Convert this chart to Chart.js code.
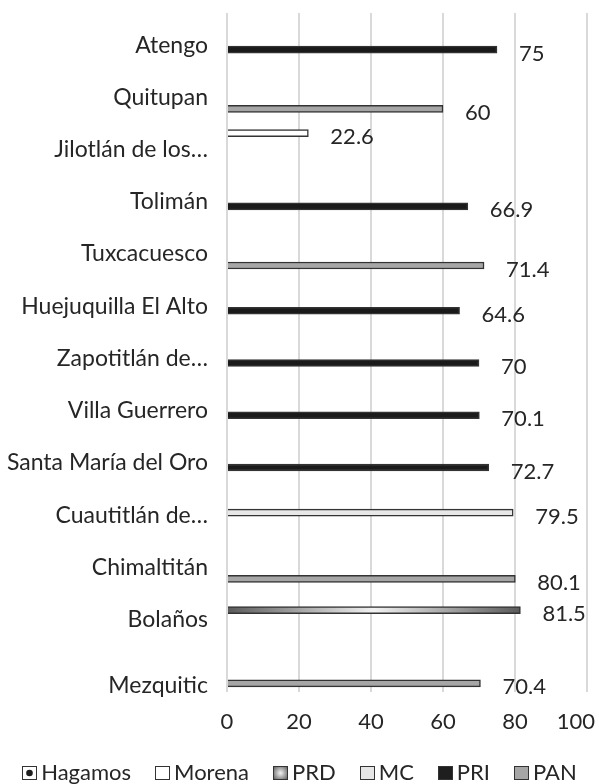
<!DOCTYPE html>
<html>
<head>
<meta charset="utf-8">
<script src="https://cdn.jsdelivr.net/npm/chart.js@4"></script>
<style>
  html, body { margin: 0; padding: 0; background: #fff; }
  #wrap { width: 599px; height: 784px; }
</style>
</head>
<body>
<div id="wrap"><canvas id="chart" width="599" height="784"></canvas></div>
<script>
// Categories (top to bottom) and one value series per party
const categories = ['Atengo', 'Quitupan', 'Jilotlán de los…', 'Tolimán', 'Tuxcacuesco', 'Huejuquilla El Alto',
    'Zapotitlán de…', 'Villa Guerrero', 'Santa María del Oro', 'Cuautitlán de…', 'Chimaltitán', 'Bolaños', 'Mezquitic'];
const hagamos = [null, null, null, null, null, null, null, null, null, null, null, null, null];
const morena  = [null, null, 22.6, null, null, null, null, null, null, null, null, null, null];
const prd     = [null, null, null, null, null, null, null, null, null, null, null, 81.5, null];
const mc      = [null, null, null, null, null, null, null, null, null, 79.5, null, null, null];
const pri     = [75, null, null, 66.9, null, 64.6, 70, 70.1, 72.7, null, null, null, null];
const pan     = [null, 60, null, null, 71.4, null, null, null, null, null, 80.1, null, 70.4];
const xTicks  = [0, 20, 40, 60, 80, 100];

const FONT = 'Lato, "Open Sans", sans-serif';
const TEXT = '#262626';
const EDGE = '#333333';

// gradient for PRD bars: dark at both ends, light in the middle
function prdFill(ctx) {
    const chart = ctx.chart;
    if (!chart.chartArea || ctx.raw == null) return '#9a9a9a';
    const x0 = chart.scales.x.getPixelForValue(0);
    const x1 = chart.scales.x.getPixelForValue(ctx.raw);
    const g = chart.ctx.createLinearGradient(x0, 0, x1, 0);
    g.addColorStop(0, '#5a5a5a');
    g.addColorStop(0.5, '#f2f2f2');
    g.addColorStop(1, '#5a5a5a');
    return g;
}

// legend swatch painters (x, y = top-left, w, h)
function plainBox(fill) {
    return (ctx, x, y, w, h) => {
        ctx.fillStyle = fill;
        ctx.fillRect(x, y, w, h);
        ctx.strokeStyle = EDGE;
        ctx.lineWidth = 1;
        ctx.strokeRect(x + 0.5, y + 0.5, w - 1, h - 1);
    };
}
const legendIcons = [
    (ctx, x, y, w, h) => {
        plainBox('#ffffff')(ctx, x, y, w, h);
        ctx.fillStyle = '#1e1e1e';
        ctx.beginPath();
        ctx.arc(x + w / 2, y + h / 2, 3.3, 0, Math.PI * 2);
        ctx.fill();
    },
    plainBox('#ffffff'),
    (ctx, x, y, w, h) => {
        const r = ctx.createRadialGradient(x + w / 2, y + h / 2, 0, x + w / 2, y + h / 2, w / 1.6);
        r.addColorStop(0, '#f4f4f4');
        r.addColorStop(1, '#5a5a5a');
        plainBox(r)(ctx, x, y, w, h);
    },
    plainBox('#e6e6e6'),
    plainBox('#1e1e1e'),
    plainBox('#a6a6a6')
];

// value labels to the right of each bar
const valueLabels = {
    id: 'valueLabels',
    afterDatasetsDraw(chart) {
        const ctx = chart.ctx;
        ctx.save();
        ctx.font = '22px ' + FONT;
        ctx.fillStyle = TEXT;
        ctx.textAlign = 'left';
        ctx.textBaseline = 'middle';
        chart.data.datasets.forEach((ds, i) => {
            const meta = chart.getDatasetMeta(i);
            meta.data.forEach((bar, j) => {
                const v = ds.data[j];
                if (v == null) return;
                ctx.fillText(String(v), bar.x + 22, bar.y + 4);
            });
        });
        ctx.restore();
    }
};

// x tick labels, the last one pulled in so it stays inside the canvas
const xLabels = {
    id: 'xLabels',
    afterDraw(chart) {
        const ctx = chart.ctx;
        const sx = chart.scales.x;
        ctx.save();
        ctx.font = '22px ' + FONT;
        ctx.fillStyle = TEXT;
        ctx.textAlign = 'center';
        ctx.textBaseline = 'middle';
        xTicks.forEach(v => {
            const t = String(v);
            const w = ctx.measureText(t).width;
            const px = Math.min(sx.getPixelForValue(v), chart.width - 4 - w / 2);
            ctx.fillText(t, px, chart.chartArea.bottom + 30);
        });
        ctx.restore();
    }
};

// legend row along the bottom, centred
const bottomLegend = {
    id: 'bottomLegend',
    afterDraw(chart) {
        const ctx = chart.ctx;
        const boxW = 15, boxH = 14, gapIn = 4, gapOut = 24, cy = 773;
        ctx.save();
        ctx.font = '22px ' + FONT;
        ctx.textBaseline = 'middle';
        ctx.textAlign = 'left';
        const items = chart.data.datasets.map((ds, i) => ({ text: ds.label, icon: legendIcons[i], w: ctx.measureText(ds.label).width }));
        const total = items.reduce((s, it) => s + boxW + gapIn + it.w, 0) + gapOut * (items.length - 1);
        let x = (chart.width - total) / 2;
        items.forEach(it => {
            it.icon(ctx, Math.round(x), cy - boxH / 2, boxW, boxH);
            ctx.fillStyle = TEXT;
            ctx.fillText(it.text, x + boxW + gapIn, cy);
            x += boxW + gapIn + it.w + gapOut;
        });
        ctx.restore();
    }
};

const series = [
    { label: 'Hagamos', data: hagamos, backgroundColor: '#ffffff' },
    { label: 'Morena', data: morena, backgroundColor: '#ffffff' },
    { label: 'PRD', data: prd, backgroundColor: prdFill },
    { label: 'MC', data: mc, backgroundColor: '#e8e8e8' },
    { label: 'PRI', data: pri, backgroundColor: '#1a1a1a' },
    { label: 'PAN', data: pan, backgroundColor: '#a6a6a6' }
];

new Chart(document.getElementById('chart'), {
    type: 'bar',
    data: {
        labels: categories,
        datasets: series.map(s => ({
            label: s.label,
            data: s.data,
            backgroundColor: s.backgroundColor,
            borderColor: EDGE,
            borderWidth: 1.5,
            barThickness: 7
        }))
    },
    options: {
        indexAxis: 'y',
        responsive: false,
        animation: false,
        layout: { padding: { top: 13, right: 12, left: 0, bottom: 46 } },
        scales: {
            x: {
                min: 0,
                max: 100,
                afterBuildTicks(scale) { scale.ticks = xTicks.map(v => ({ value: v })); },
                grid: { color: '#d9d9d9', lineWidth: 2, drawTicks: false },
                border: { display: false },
                ticks: { display: false },
                afterFit(scale) {
                    scale.height = 46;
                    scale.paddingLeft = 0;
                    scale.paddingRight = 0;
                }
            },
            y: {
                grid: { display: false, drawTicks: false },
                border: { display: false },
                ticks: {
                    color: TEXT,
                    font: { family: FONT, size: 23 },
                    padding: 19,
                    labelOffset: 6,
                    autoSkip: false,
                    // the last label sits one line lower in the source chart
                    callback(value, index) {
                        const label = this.getLabelForValue(value);
                        return index === categories.length - 1 ? ['', label] : label;
                    }
                },
                afterFit(scale) {
                    scale.width = 227;
                    scale.paddingTop = 0;
                    scale.paddingBottom = 0;
                }
            }
        },
        plugins: {
            tooltip: { enabled: false },
            legend: { display: false }
        }
    },
    plugins: [valueLabels, xLabels, bottomLegend]
});
</script>
</body>
</html>
